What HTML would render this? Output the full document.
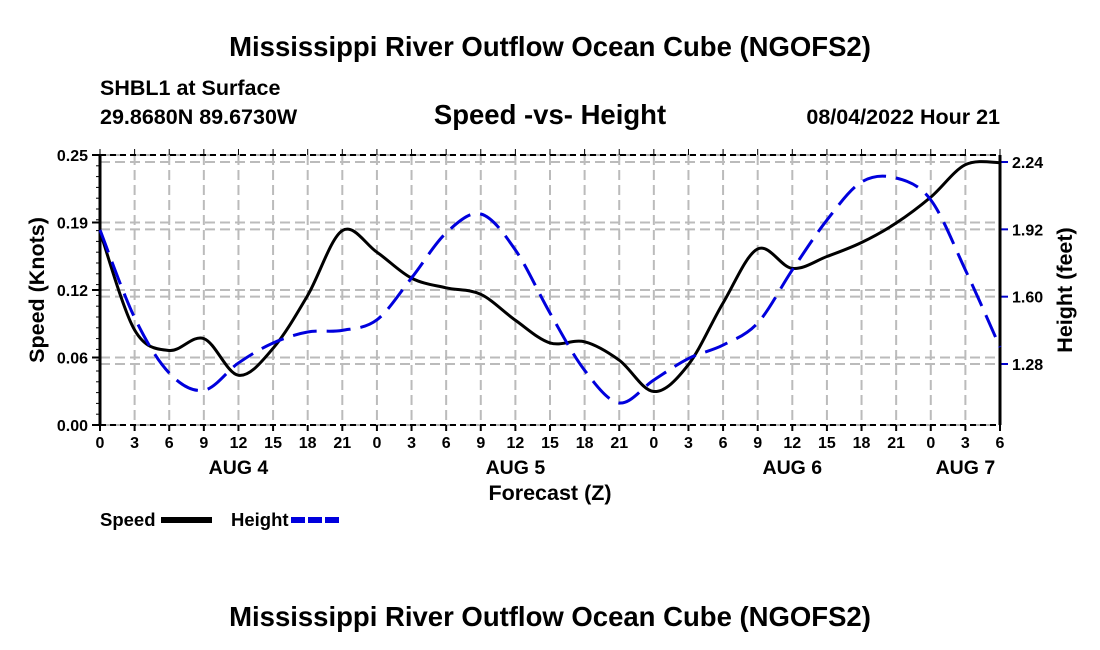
<!DOCTYPE html>
<html><head><meta charset="utf-8"><style>
body{margin:0;background:#fff}
svg{display:block;font-family:"Liberation Sans",Arial,sans-serif;font-weight:bold}
</style></head><body>
<svg id="chart" width="1100" height="650" viewBox="0 0 1100 650">
<text x="550" y="56" font-size="27.5" text-anchor="middle">Mississippi River Outflow Ocean Cube (NGOFS2)</text>
<text x="100" y="95" font-size="21.5">SHBL1 at Surface</text>
<text x="100" y="124" font-size="21.5">29.8680N  89.6730W</text>
<text x="550" y="124" font-size="27.5" text-anchor="middle">Speed -vs- Height</text>
<text x="1000" y="124" font-size="21.5" text-anchor="end">08/04/2022 Hour 21</text>
<g id="grid"></g>
<g id="axes"></g>
<g id="series"></g>
<text x="550" y="500" font-size="21.5" text-anchor="middle">Forecast (Z)</text>
<text transform="translate(44,290) rotate(-90)" font-size="21.5" text-anchor="middle">Speed (Knots)</text>
<text transform="translate(1072,290) rotate(-90)" font-size="21.5" text-anchor="middle">Height (feet)</text>
<g><text x="100" y="526" font-size="18.5">Speed</text><line x1="161" y1="520" x2="212" y2="520" stroke="#000" stroke-width="6"/></g>
<g><text x="231" y="526" font-size="18.5">Height</text><line x1="291" y1="520" x2="342" y2="520" stroke="#0000dd" stroke-width="6" stroke-dasharray="14,3"/></g>
<text x="550" y="626" font-size="27.5" text-anchor="middle">Mississippi River Outflow Ocean Cube (NGOFS2)</text>
</svg>
<script>
const hours=[0,3,6,9,12,15,18,21,24,27,30,33,36,39,42,45,48,51,54,57,60,63,66,69,72,75,78];
const speed=[0.179,0.088,0.069,0.08,0.046,0.071,0.12,0.18,0.16,0.136,0.127,0.121,0.097,0.076,0.077,0.06,0.031,0.056,0.113,0.163,0.145,0.156,0.169,0.187,0.211,0.241,0.243];
const height=[1.917,1.5,1.237,1.155,1.285,1.38,1.432,1.44,1.49,1.689,1.903,1.993,1.822,1.522,1.25,1.095,1.204,1.306,1.37,1.475,1.727,1.964,2.145,2.164,2.06,1.727,1.36];
const xTickLabels=["0","3","6","9","12","15","18","21","0","3","6","9","12","15","18","21","0","3","6","9","12","15","18","21","0","3","6"];
const dayLabels=["AUG 4","AUG 5","AUG 6","AUG 7"];
const dayHours=[12,36,60,75];
const leftTicks=[0,0.0625,0.125,0.1875,0.25];
const leftTickLabels=["0.00","0.06","0.12","0.19","0.25"];
const rightTicks=[1.28,1.60,1.92,2.24];
const rightTickLabels=["1.28","1.60","1.92","2.24"];
const L=100,R=1000,T=155,B=425;
const xs=h=>L+(h/78)*(R-L);
const ys=v=>B-(v/0.25)*(B-T);
const yh=v=>364-(v-1.28)*210.4;
const NS="http://www.w3.org/2000/svg";
function mk(tag,attrs,parent){const e=document.createElementNS(NS,tag);for(const k in attrs)e.setAttribute(k,attrs[k]);parent.appendChild(e);return e;}
const grid=document.getElementById('grid'),axes=document.getElementById('axes'),series=document.getElementById('series');
hours.forEach((h,i)=>{
 if(i>0&&i<hours.length-1){const g=mk('line',{x1:xs(h),x2:xs(h),y1:T,y2:B,stroke:'#bbb','stroke-width':2,'stroke-dasharray':'10,5'},grid);
 
 }
 const t=mk('line',{x1:xs(h),x2:xs(h),y1:B,y2:B+6,stroke:'#000','stroke-width':2},axes);
 
 
 mk('line',{x1:xs(h),x2:xs(h),y1:T-6,y2:T,stroke:'#000','stroke-width':1},axes);
 const tx=mk('text',{x:xs(h),y:B+23,'font-size':16,'text-anchor':'middle'},axes);tx.textContent=xTickLabels[i];
 
 
});
dayLabels.forEach((d,i)=>{const tx=mk('text',{x:xs(dayHours[i]),y:B+49,'font-size':19.5,'text-anchor':'middle'},axes);tx.textContent=d;
 
 });
leftTicks.forEach((v,i)=>{
 const g=mk('line',{x1:L,x2:R,y1:ys(v),y2:ys(v),stroke:'#bbb','stroke-width':2,'stroke-dasharray':'10,5'},grid);
 
 
 mk('line',{x1:L-8,x2:L,y1:ys(v),y2:ys(v),stroke:'#000','stroke-width':2},axes);
 const tx=mk('text',{x:L-12,y:ys(v)+6,'font-size':16,'text-anchor':'end'},axes);tx.textContent=leftTickLabels[i];
 
 
});
for(let k=0;k<=25;k++){const v=k*0.01;mk('line',{x1:L-4,x2:L,y1:ys(v),y2:ys(v),stroke:'#000','stroke-width':1},axes);}
rightTicks.forEach((v,i)=>{
 const g=mk('line',{x1:L,x2:R,y1:yh(v),y2:yh(v),stroke:'#bbb','stroke-width':2,'stroke-dasharray':'10,5'},grid);
 
 
 mk('line',{x1:R,x2:R+8,y1:yh(v),y2:yh(v),stroke:'#0000cc','stroke-width':2},axes);
 const tx=mk('text',{x:R+12,y:yh(v)+6,'font-size':16},axes);tx.textContent=rightTickLabels[i];
 
 
});
mk('line',{x1:L,x2:L,y1:T,y2:B,stroke:'#000','stroke-width':3},axes);
mk('line',{x1:R,x2:R,y1:T,y2:B,stroke:'#000','stroke-width':3},axes);
mk('line',{x1:L,x2:R,y1:B,y2:B,stroke:'#000','stroke-width':2,'stroke-dasharray':'6,4'},axes);
mk('line',{x1:L,x2:R,y1:T,y2:T,stroke:'#000','stroke-width':2,'stroke-dasharray':'6,4'},axes);
function path(pts){let d=`M${pts[0][0]},${pts[0][1]}`;for(let i=0;i<pts.length-1;i++){const p0=pts[i-1]||pts[i],p1=pts[i],p2=pts[i+1],p3=pts[i+2]||p2;
 d+=` C${p1[0]+(p2[0]-p0[0])/6},${p1[1]+(p2[1]-p0[1])/6} ${p2[0]-(p3[0]-p1[0])/6},${p2[1]-(p3[1]-p1[1])/6} ${p2[0]},${p2[1]}`;}return d;}
const sp=mk('path',{d:path(hours.map((h,i)=>[xs(h),ys(speed[i])])),fill:'none',stroke:'#000','stroke-width':3},series);


const hp=mk('path',{d:path(hours.map((h,i)=>[xs(h),yh(height[i])])),fill:'none',stroke:'#0000dd','stroke-width':3,'stroke-dasharray':'24,10'},series);


</script>
</body></html>
